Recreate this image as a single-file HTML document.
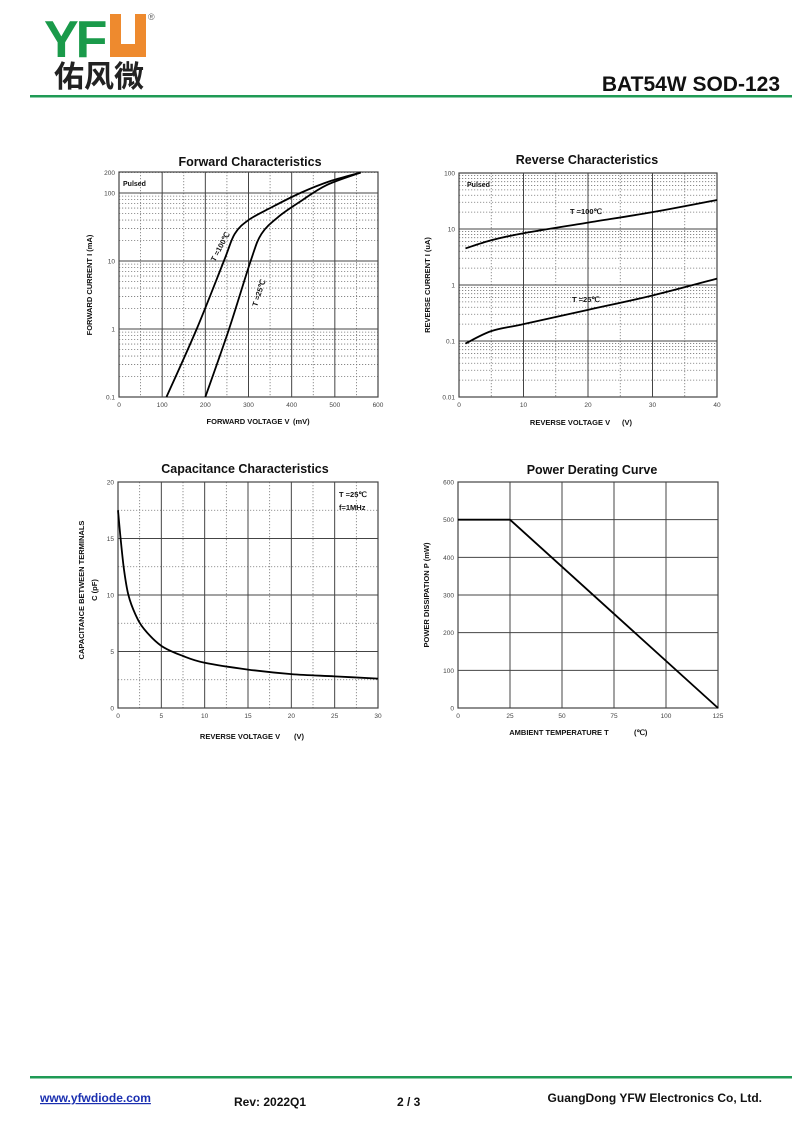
<!DOCTYPE html>
<html><head><meta charset="utf-8"><style>
html,body{margin:0;padding:0;background:#fff;}
body{width:800px;height:1130px;position:relative;overflow:hidden;font-family:"Liberation Sans",Arial,sans-serif;}
</style></head><body>
<svg id="s" width="800" height="1130" xmlns="http://www.w3.org/2000/svg" style="position:absolute;left:0;top:0" font-family="Liberation Sans, Arial, sans-serif">
<!-- header -->
<text x="44" y="57" font-size="52" font-weight="bold" fill="#1a9a4a" letter-spacing="-3">YF</text>
<path d="M110 14 h11 v30 h14 v-30 h11 v43 h-36 z" fill="#ee8a2e"/>
<text x="148" y="20" font-size="9" fill="#666">®</text>
<text x="54" y="87" font-size="30" font-family="Noto Sans CJK SC, WenQuanYi Zen Hei, sans-serif" fill="#222" font-weight="bold">佑风微</text>
<rect x="30" y="95" width="762" height="2.5" fill="#1f9a55"/>
<text x="780" y="91" font-size="21" font-weight="bold" text-anchor="end" fill="#111">BAT54W  SOD-123</text>
<!-- footer -->
<rect x="30" y="1076" width="762" height="2.5" fill="#1f9a55"/>
<text x="40" y="1102" font-size="12" font-weight="bold" fill="#1a2fb0" text-decoration="underline">www.yfwdiode.com</text>
<text x="234" y="1106" font-size="12" font-weight="bold" fill="#111">Rev: 2022Q1</text>
<text x="397" y="1106" font-size="12" font-weight="bold" fill="#111">2 / 3</text>
<text x="762" y="1102" font-size="12" font-weight="bold" fill="#111" text-anchor="end">GuangDong YFW Electronics Co, Ltd.</text>
<g id="g"></g>
</svg>
<script>
var g=document.getElementById('g'),NS='http://www.w3.org/2000/svg';
function el(t,a,txt){var e=document.createElementNS(NS,t);for(var k in a)e.setAttribute(k,a[k]);if(txt!=null)e.textContent=txt;g.appendChild(e);return e;}
function ln(x1,y1,x2,y2,dot){el('line',{x1:x1,y1:y1,x2:x2,y2:y2,stroke:dot?'#777':'#444','stroke-width':dot?0.8:1,'stroke-dasharray':dot?'1.2,1.8':''});}
function txt(x,y,s,sz,o){o=o||{};var a={x:x,y:y,'font-size':sz,fill:'#111'};for(var k in o)a[k]=o[k];return el('text',a,s);}
function curve(pts){var d='M'+pts[0][0]+' '+pts[0][1];for(var i=0;i<pts.length-1;i++){var p0=pts[Math.max(0,i-1)],p1=pts[i],p2=pts[i+1],p3=pts[Math.min(pts.length-1,i+2)];
d+=' C'+(p1[0]+(p2[0]-p0[0])/6)+' '+(p1[1]+(p2[1]-p0[1])/6)+' '+(p2[0]-(p3[0]-p1[0])/6)+' '+(p2[1]-(p3[1]-p1[1])/6)+' '+p2[0]+' '+p2[1];}
el('path',{d:d,fill:'none',stroke:'#000','stroke-width':1.8});}
function box(L,T,R,B){el('rect',{x:L,y:T,width:R-L,height:B-T,fill:'none',stroke:'#444','stroke-width':1.2});}
function ylab(x,y,s){var t=txt(x,y,s,7.5,{'font-weight':'bold','text-anchor':'middle',transform:'rotate(-90 '+x+' '+y+')'});}
// Forward
(function(){var L=119,R=378,T=172,B=397,D=68;
function X(v){return L+v/600*(R-L);}function Y(i){return B-(Math.log10(i)+1)*D;}
for(var d=-1;d<=2;d++)for(var m=2;m<=9;m++){var v=m*Math.pow(10,d);if(v>200)break;ln(L,Y(v),R,Y(v),1);}
for(var v=50;v<600;v+=100)ln(X(v),T,X(v),B,1);
for(var v=100;v<600;v+=100)ln(X(v),T,X(v),B,0);
[1,10,100].forEach(function(v){ln(L,Y(v),R,Y(v),0);});
box(L,T,R,B);
[['0.1',0.1],['1',1],['10',10],['100',100],['200',200]].forEach(function(a){txt(L-4,Y(a[1])+2.5,a[0],6.5,{'text-anchor':'end',fill:'#444'});});
for(var v=0;v<=600;v+=100)txt(X(v),B+10,v,6.5,{'text-anchor':'middle',fill:'#444'});
txt(123,186,'Pulsed',7,{'font-weight':'bold'});
txt(250,166,'Forward    Characteristics',12.5,{'font-weight':'bold','text-anchor':'middle'});
txt(248,424,'FORWARD VOLTAGE   V',7.5,{'font-weight':'bold','text-anchor':'middle'});txt(293,424,'(mV)',7.5,{'font-weight':'bold'});
ylab(92,285,'FORWARD CURRENT   I   (mA)');
function P(a){return a.map(function(p){return [X(p[0]),Y(p[1])];});}
curve(P([[110,0.1],[180,1],[243,10],[268,25],[300,40],[350,60],[420,100],[490,150],[560,200]]));
curve(P([[200,0.1],[255,1],[305,10],[330,25],[370,45],[420,75],[480,130],[560,200]]));
txt(0,0,'T =100℃',7.5,{'font-weight':'bold',transform:'translate(215,262) rotate(-62)'});
txt(0,0,'T =25℃',7.5,{'font-weight':'bold',transform:'translate(257,307) rotate(-72)'});
})();
// Reverse
(function(){var L=459,R=717,T=173,B=397,D=56;
function X(v){return L+v/40*(R-L);}function Y(i){return B-(Math.log10(i)+2)*D;}
for(var d=-2;d<=1;d++)for(var m=2;m<=9;m++){ln(L,Y(m*Math.pow(10,d)),R,Y(m*Math.pow(10,d)),1);}
for(var v=5;v<40;v+=10)ln(X(v),T,X(v),B,1);
for(var v=10;v<40;v+=10)ln(X(v),T,X(v),B,0);
[0.1,1,10].forEach(function(v){ln(L,Y(v),R,Y(v),0);});
box(L,T,R,B);
[['0.01',0.01],['0.1',0.1],['1',1],['10',10],['100',100]].forEach(function(a){txt(L-4,Y(a[1])+2.5,a[0],6.5,{'text-anchor':'end',fill:'#444'});});
for(var v=0;v<=40;v+=10)txt(X(v),B+10,v,6.5,{'text-anchor':'middle',fill:'#444'});
txt(467,187,'Pulsed',7,{'font-weight':'bold'});
txt(587,164,'Reverse    Characteristics',12.5,{'font-weight':'bold','text-anchor':'middle'});
txt(570,425,'REVERSE VOLTAGE   V',7.5,{'font-weight':'bold','text-anchor':'middle'});txt(622,425,'(V)',7.5,{'font-weight':'bold'});
ylab(430,285,'REVERSE CURRENT   I   (uA)');
function P(a){return a.map(function(p){return [X(p[0]),Y(p[1])];});}
curve(P([[1,4.5],[5,6.3],[10,8.4],[20,13],[30,20],[40,33]]));
curve(P([[1,0.09],[5,0.15],[10,0.2],[20,0.36],[30,0.65],[40,1.3]]));
txt(570,214,'T =100℃',7.5,{'font-weight':'bold'});
txt(572,302,'T =25℃',7.5,{'font-weight':'bold'});
})();
// Capacitance
(function(){var L=118,R=378,T=482,B=708;
function X(v){return L+v/30*(R-L);}function Y(c){return B-c/20*(B-T);}
for(var v=2.5;v<30;v+=5)ln(X(v),T,X(v),B,1);
for(var c=2.5;c<20;c+=5)ln(L,Y(c),R,Y(c),1);
for(var v=5;v<30;v+=5)ln(X(v),T,X(v),B,0);
for(var c=5;c<20;c+=5)ln(L,Y(c),R,Y(c),0);
box(L,T,R,B);
for(var c=0;c<=20;c+=5)txt(L-4,Y(c)+2.5,c,6.5,{'text-anchor':'end',fill:'#444'});
for(var v=0;v<=30;v+=5)txt(X(v),B+10,v,6.5,{'text-anchor':'middle',fill:'#444'});
txt(245,473,'Capacitance Characteristics',12.5,{'font-weight':'bold','text-anchor':'middle'});
txt(240,739,'REVERSE VOLTAGE   V',7.5,{'font-weight':'bold','text-anchor':'middle'});txt(294,739,'(V)',7.5,{'font-weight':'bold'});
ylab(84,590,'CAPACITANCE BETWEEN TERMINALS');ylab(97,590,'C    (pF)');
txt(339,497,'T =25℃',7.5,{'font-weight':'bold'});txt(339,510,'f=1MHz',7.5,{'font-weight':'bold'});
var pts=[[0,17.5],[0.3,15],[0.7,12.2],[1.2,10],[2,8.3],[3,7],[5,5.5],[7.5,4.6],[10,4],[15,3.4],[20,3],[25,2.8],[30,2.6]];
curve(pts.map(function(p){return [X(p[0]),Y(p[1])];}));
})();
// Power
(function(){var L=458,R=718,T=482,B=708;
function X(v){return L+v/125*(R-L);}function Y(c){return B-c/600*(B-T);}
for(var v=25;v<125;v+=25)ln(X(v),T,X(v),B,0);
for(var c=100;c<600;c+=100)ln(L,Y(c),R,Y(c),0);
box(L,T,R,B);
for(var c=0;c<=600;c+=100)txt(L-4,Y(c)+2.5,c,6.5,{'text-anchor':'end',fill:'#444'});
for(var v=0;v<=125;v+=25)txt(X(v),B+10,v,6.5,{'text-anchor':'middle',fill:'#444'});
txt(592,474,'Power Derating Curve',12.5,{'font-weight':'bold','text-anchor':'middle'});
txt(559,735,'AMBIENT TEMPERATURE    T',7.5,{'font-weight':'bold','text-anchor':'middle'});txt(634,735,'(℃)',7.5,{'font-weight':'bold'});
ylab(429,595,'POWER DISSIPATION    P    (mW)');
el('polyline',{points:X(0)+','+Y(500)+' '+X(25)+','+Y(500)+' '+X(125)+','+Y(0),fill:'none',stroke:'#000','stroke-width':1.8});
})();
</script>
</body></html>
